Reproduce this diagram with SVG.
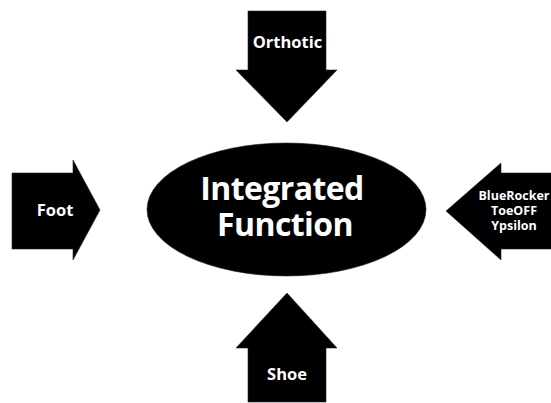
<svg xmlns="http://www.w3.org/2000/svg" width="551" height="403" viewBox="0 0 551 403">
<style>
.shape{fill:#000;stroke:#2a2430;stroke-width:0.6}
.lbl{font-family:"Open Sans","Noto Sans",sans-serif;font-weight:bold;fill:#fff;text-anchor:middle}
.big{font-size:32px;letter-spacing:-0.6px}
.mid{font-size:16.5px}
.sm{font-size:12.5px}
</style>
<rect width="551" height="403" fill="#fff"/>
<g id="connectors"></g>
<g id="center">
<ellipse class="shape" cx="286.5" cy="209.5" rx="139.5" ry="66.5"/>
<text class="lbl big" x="282" y="200">Integrated</text>
<text class="lbl big" x="285" y="236">Function</text>
</g>
<g id="orthotic">
<polygon class="shape" points="248,11 326,11 326,70 337,70 287,122 236,70 248,70"/>
<text class="lbl mid" x="287.5" y="48">Orthotic</text>
</g>
<g id="shoe">
<polygon class="shape" points="287,293 337,348 326,348 326,402 248,402 248,348 236,348"/>
<text class="lbl mid" x="287" y="380">Shoe</text>
</g>
<g id="foot">
<polygon class="shape" points="12,173 73,173 73,160 100,210 73,260 73,249 12,249"/>
<text class="lbl mid" x="55" y="216">Foot</text>
</g>
<g id="products">
<polygon class="shape" points="446,211 501,163 501,173 552,173 552,249 501,249 501,260"/>
<text class="lbl sm" x="514" y="200">BlueRocker</text>
<text class="lbl sm" x="514" y="215">ToeOFF</text>
<text class="lbl sm" x="514" y="230">Ypsilon</text>
</g>
</svg>
